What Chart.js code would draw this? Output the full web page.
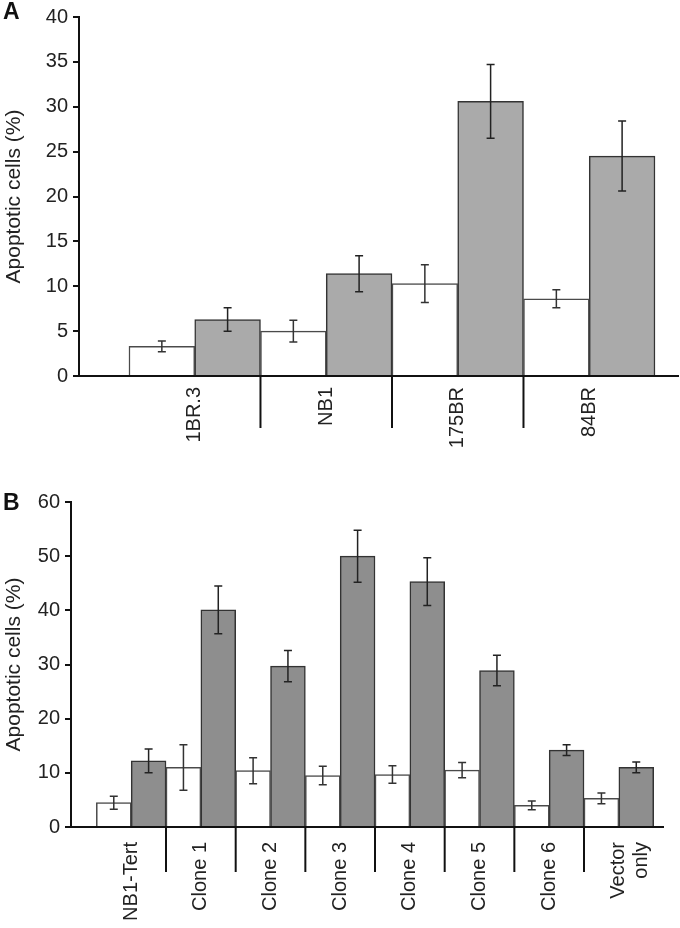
<!DOCTYPE html>
<html>
<head>
<meta charset="utf-8">
<script src="https://cdn.jsdelivr.net/npm/chart.js@4/dist/chart.umd.min.js"></script>
<style>
  html, body { margin: 0; padding: 0; background: #fff; }
  body { width: 680px; height: 928px; position: relative; overflow: hidden; font-family: "Liberation Sans", Arial, sans-serif; }
  .wrap { position: absolute; left: 0; width: 680px; }
  .panel { position: absolute; left: 3px; font-weight: bold; font-size: 23px; color: #111; line-height: 1; }
</style>
</head>
<body>
<div class="wrap" style="top:0;height:460px;"><canvas id="chartA" width="680" height="460"></canvas></div>
<div class="wrap" style="top:460px;height:468px;"><canvas id="chartB" width="680" height="468"></canvas></div>
<div class="panel" style="top:0px;">A</div>
<div class="panel" style="top:491px;">B</div>
<script>
// ---- Panel A data ----
const categoriesA = ['1BR.3', 'NB1', '175BR', '84BR'];
const untreatedA = [3.3, 5.0, 10.3, 8.6];
const untreatedErrA = [0.6, 1.2, 2.1, 1.0];
const treatedA = [6.3, 11.4, 30.6, 24.5];
const treatedErrA = [1.3, 2.0, 4.1, 3.9];
const yTicksA = { max: 40, step: 5 };

// ---- Panel B data ----
const categoriesB = ['NB1-Tert', 'Clone 1', 'Clone 2', 'Clone 3', 'Clone 4', 'Clone 5', 'Clone 6', ['Vector', 'only']];
const untreatedB = [4.5, 11.0, 10.4, 9.5, 9.7, 10.5, 4.0, 5.3];
const untreatedErrB = [1.2, 4.2, 2.4, 1.7, 1.6, 1.4, 0.8, 1.0];
const treatedB = [12.2, 40.1, 29.7, 50.0, 45.3, 28.9, 14.2, 11.0];
const treatedErrB = [2.2, 4.4, 2.9, 4.8, 4.4, 2.8, 1.0, 1.0];
const yTicksB = { max: 60, step: 10 };

const yTitle = 'Apoptotic cells (%)';
const FONT = '"Liberation Sans", Arial, sans-serif';

const errorBarPlugin = {
  id: 'errorBars',
  afterDatasetsDraw(chart) {
    const ctx = chart.ctx;
    const yScale = chart.scales.y;
    chart.data.datasets.forEach((ds, di) => {
      const meta = chart.getDatasetMeta(di);
      meta.data.forEach((el, i) => {
        const v = ds.data[i].y;
        const e = ds.errors[i];
        const yTop = yScale.getPixelForValue(v + e);
        const yBot = yScale.getPixelForValue(v - e);
        const x = el.x;
        ctx.save();
        ctx.strokeStyle = ds.errorColor;
        ctx.lineWidth = 1.5;
        ctx.beginPath();
        ctx.moveTo(x, yTop); ctx.lineTo(x, yBot);
        ctx.moveTo(x - 4, yTop); ctx.lineTo(x + 4, yTop);
        ctx.moveTo(x - 4, yBot); ctx.lineTo(x + 4, yBot);
        ctx.stroke();
        ctx.restore();
      });
    });
  }
};

const separatorPlugin = {
  id: 'separators',
  afterDraw(chart, args, opts) {
    const ctx = chart.ctx;
    const xScale = chart.scales.x;
    const bottom = chart.chartArea.bottom;
    ctx.save();
    ctx.strokeStyle = '#111';
    ctx.lineWidth = 2;
    for (let i = 0; i < opts.count - 1; i++) {
      const x = xScale.getPixelForValue(i + 0.5);
      ctx.beginPath();
      ctx.moveTo(x, bottom);
      ctx.lineTo(x, bottom + opts.length);
      ctx.stroke();
    }
    ctx.restore();
  }
};

function makeChart(id, cats, wv, we, gv, ge, yt, cfg) {
  return new Chart(document.getElementById(id), {
    type: 'bar',
    data: {
      datasets: [
        {
          data: cats.map((c, i) => ({ x: i, y: wv[i] })),
          errors: we,
          errorColor: '#333',
          backgroundColor: '#ffffff',
          borderColor: '#4a4a4a',
          borderWidth: 1.5,
          barPercentage: 1,
          categoryPercentage: 1
        },
        {
          data: cats.map((c, i) => ({ x: i, y: gv[i] })),
          errors: ge,
          errorColor: '#222',
          backgroundColor: cfg.gray,
          borderColor: '#333',
          borderWidth: 1.5,
          barPercentage: 1,
          categoryPercentage: 1
        }
      ]
    },
    plugins: [errorBarPlugin, separatorPlugin],
    options: {
      responsive: false,
      animation: false,
      events: [],
      layout: { padding: { left: 0, right: 2, top: cfg.top, bottom: 0 } },
      plugins: {
        legend: { display: false },
        tooltip: { enabled: false },
        separators: { count: cats.length, length: cfg.sepLen }
      },
      scales: {
        x: {
          type: 'linear',
          offset: false,
          bounds: 'data',
          min: cfg.xmin,
          max: cfg.xmax,
          grid: { display: false, drawTicks: false, offset: false },
          border: { display: true, color: '#111', width: 2 },
          afterBuildTicks(scale) { scale.ticks = cats.map((c, i) => ({ value: i })); },
          afterFit(scale) { scale.height = cfg.xh; },
          ticks: {
            autoSkip: false,
            minRotation: 90,
            maxRotation: 90,
            padding: cfg.labelPad,
            color: '#222',
            font: { family: FONT, size: 20, lineHeight: 1.15 },
            callback: (v) => cats[v]
          }
        },
        y: {
          min: 0,
          max: yt.max,
          afterFit(scale) { scale.width = cfg.yw; },
          grid: { drawOnChartArea: false, tickLength: 6, color: '#111', lineWidth: 2 },
          border: { display: true, color: '#111', width: 2 },
          ticks: {
            stepSize: yt.step,
            padding: 5,
            color: '#222',
            font: { family: FONT, size: 20 }
          },
          title: {
            display: true,
            text: yTitle,
            color: '#222',
            padding: { top: 2, bottom: 0 },
            font: { family: FONT, size: 21 }
          }
        }
      }
    }
  });
}

makeChart('chartA', categoriesA, untreatedA, untreatedErrA, treatedA, treatedErrA, yTicksA,
  { gray: '#aaaaaa', top: 12, xmin: -0.88, xmax: 3.675, xh: 84, yw: 79, sepLen: 52, labelPad: 11 });
makeChart('chartB', categoriesB, untreatedB, untreatedErrB, treatedB, treatedErrB, yTicksB,
  { gray: '#8e8e8e', top: 42, xmin: -0.864, xmax: 7.64, xh: 101, yw: 71, sepLen: 45, labelPad: 15 });
</script>
</body>
</html>
